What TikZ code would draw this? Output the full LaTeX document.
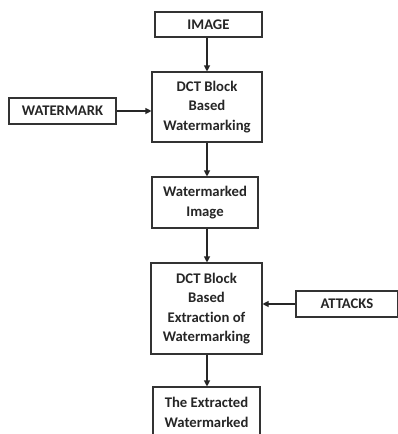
\documentclass[tikz,border=0pt]{standalone}
\usepackage{fontspec}
\setmainfont[Ligatures=NoCommon]{Carlito}
\usetikzlibrary{arrows.meta}
\begin{document}
\begin{tikzpicture}[x=1pt,y=1pt,
  box/.style={draw=black!80, line width=1.1pt, fill=white, align=center, inner sep=0pt,
    font=\bfseries\fontsize{14.7}{19.5}\selectfont, text=black!85},
  arr/.style={draw=black!85, line width=1.1pt, -{Triangle[length=6pt,width=6pt]}}]
\useasboundingbox (0,0) rectangle (398,-434);
\clip (0,0) rectangle (398,-434);
\fill[white] (0,0) rectangle (398,-434);
\node[box, minimum width=107pt, minimum height=25pt] (img) at (208.5,-24.5) {IMAGE};
\node[box, minimum width=110pt, minimum height=70pt] (dct1) at (207,-107) {DCT Block\\Based\\Watermarking};
\node[box, minimum width=107pt, minimum height=26pt] (wm) at (62.5,-111) {WATERMARK};
\node[box, minimum width=106pt, minimum height=51pt] (wi) at (205,-202.5) {Watermarked\\Image};
\node[box, minimum width=111pt, minimum height=91pt] (dct2) at (206.5,-308.5) {DCT Block\\Based\\Extraction of\\Watermarking};
\node[box, minimum width=102pt, minimum height=26pt] (att) at (347,-304) {ATTACKS};
\node[box, minimum width=107pt, minimum height=70pt] (ext) at (206.5,-422) {The Extracted\\Watermarked\\\mbox{}};
\coordinate (x) at (207,0);
\draw[arr] (img.south -| x) -- (dct1.north -| x);
\draw[arr] (dct1.south -| x) -- (wi.north -| x);
\draw[arr] (wi.south -| x) -- (dct2.north -| x);
\draw[arr] (dct2.south -| x) -- (ext.north -| x);
\draw[arr] (wm.east) -- (wm.east -| dct1.west);
\draw[arr] (att.west) -- (att.west -| dct2.east);
\end{tikzpicture}
\end{document}
